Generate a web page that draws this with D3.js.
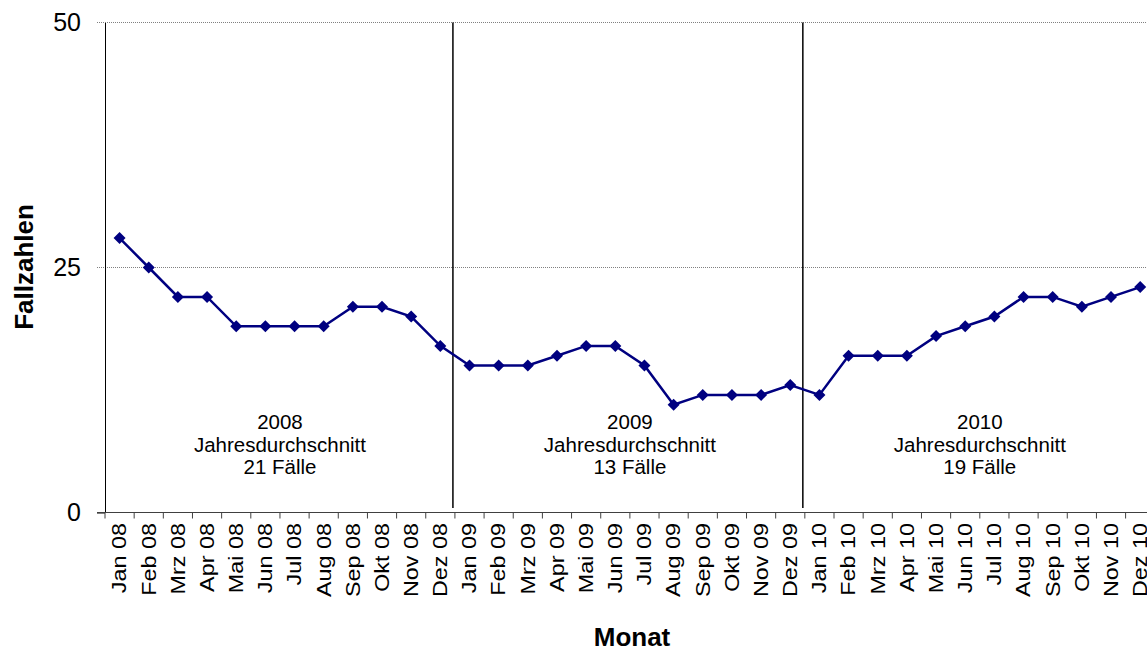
<!DOCTYPE html>
<html>
<head>
<meta charset="utf-8">
<script src="https://cdn.jsdelivr.net/npm/d3@7"></script>
<style>
    body { margin: 0; background: #fff; overflow: hidden; }
    svg { display: block; font-family: Arial, "Liberation Sans", sans-serif; }
</style>
</head>
<body>
<svg width="1147" height="650"></svg>
<script>
// monthly labels (x axis)
const months = [
    "Jan 08", "Feb 08", "Mrz 08", "Apr 08", "Mai 08", "Jun 08", "Jul 08", "Aug 08", "Sep 08", "Okt 08", "Nov 08", "Dez 08",
    "Jan 09", "Feb 09", "Mrz 09", "Apr 09", "Mai 09", "Jun 09", "Jul 09", "Aug 09", "Sep 09", "Okt 09", "Nov 09", "Dez 09",
    "Jan 10", "Feb 10", "Mrz 10", "Apr 10", "Mai 10", "Jun 10", "Jul 10", "Aug 10", "Sep 10", "Okt 10", "Nov 10", "Dez 10"
];

// case numbers per month
const cases = [
    28, 25, 22, 22, 19, 19, 19, 19, 21, 21, 20, 17,
    15, 15, 15, 16, 17, 17, 15, 11, 12, 12, 12, 13,
    12, 16, 16, 16, 18, 19, 20, 22, 22, 21, 22, 23
];

// yearly annotations
const years = ["2008", "2009", "2010"];
const yearAverages = [21, 13, 19];

const yTicks = [0, 25, 50];

function drawGraph() {
    const svg = d3.select("svg");
    svg.selectAll('*').remove();

    const area = {
        left: 105,
        step: 29.16,
        top: 22.5,
        bottom: 512.5
    };

    const scaleX = d3.scaleBand()
        .domain(months)
        .range([area.left, area.left + area.step * months.length]);

    const scaleY = d3.scaleLinear()
        .domain([0, 50])
        .range([area.bottom, area.top]);

    createAxis(svg, scaleX, scaleY);
    createYears(svg, scaleX, scaleY);
    createChart(svg, scaleX, scaleY);
}

function createAxis(svg, scaleX, scaleY) {
    const right = scaleX.range()[1];

    // dotted gridlines
    svg.selectAll("line.grid")
        .data(yTicks.filter(d => d > 0))
        .enter()
        .append("line")
        .attr("class", "grid")
        .attr("x1", 97)
        .attr("x2", right)
        .attr("y1", d => scaleY(d))
        .attr("y2", d => scaleY(d))
        .attr("stroke", "#808080")
        .attr("stroke-dasharray", "1,1");

    // y axis
    const gY = svg.append("g")
        .attr("transform", "translate(105,0)")
        .call(d3.axisLeft(scaleY).tickValues(yTicks).tickSize(8).tickSizeOuter(0).tickPadding(16));
    gY.select(".domain").attr("stroke", "#000");
    gY.selectAll(".tick line").attr("stroke", d => d === 0 ? "#000" : "none");
    gY.selectAll(".tick text")
        .attr("font-size", 25)
        .attr("font-family", "Arial, 'Liberation Sans', sans-serif")
        .attr("fill", "#000");

    // x axis line with ticks on band borders
    svg.append("line")
        .attr("x1", 97)
        .attr("x2", right)
        .attr("y1", scaleY(0))
        .attr("y2", scaleY(0))
        .attr("stroke", "#404040");

    svg.selectAll("line.xtick")
        .data(months.concat(["end"]))
        .enter()
        .append("line")
        .attr("class", "xtick")
        .attr("x1", d => d === "end" ? right : scaleX(d))
        .attr("x2", d => d === "end" ? right : scaleX(d))
        .attr("y1", scaleY(0))
        .attr("y2", scaleY(0) + 6)
        .attr("stroke", "#404040");

    // rotated month labels
    svg.selectAll("text.month")
        .data(months)
        .enter()
        .append("text")
        .attr("class", "month")
        .attr("transform", d => `translate(${scaleX(d) + scaleX.bandwidth() / 2}, 523) rotate(-90) scale(1.2,1)`)
        .attr("text-anchor", "end")
        .attr("dy", "0.35em")
        .attr("font-size", 19.5)
        .text(d => d);

    // axis titles
    svg.append("text")
        .attr("transform", "translate(33, 267) rotate(-90)")
        .attr("text-anchor", "middle")
        .attr("font-size", 26)
        .attr("font-weight", "bold")
        .text("Fallzahlen");

    svg.append("text")
        .attr("x", 632)
        .attr("y", 646)
        .attr("text-anchor", "middle")
        .attr("font-size", 26)
        .attr("font-weight", "bold")
        .text("Monat");
}

function createYears(svg, scaleX, scaleY) {
    // separators between the years
    svg.selectAll("line.sep")
        .data(years.slice(1))
        .enter()
        .append("line")
        .attr("class", "sep")
        .attr("x1", (d, i) => scaleX(months[(i + 1) * 12]) - 2)
        .attr("x2", (d, i) => scaleX(months[(i + 1) * 12]) - 2)
        .attr("y1", scaleY(50))
        .attr("y2", 508)
        .attr("stroke", "#000")
        .attr("stroke-width", 1.5);

    const label = svg.selectAll("text.year")
        .data(years)
        .enter()
        .append("text")
        .attr("class", "year")
        .attr("text-anchor", "middle")
        .attr("font-size", 20.5)
        .attr("transform", (d, i) => {
            const x0 = scaleX(months[i * 12]);
            const x1 = scaleX(months[i * 12 + 11]) + scaleX.bandwidth();
            return `translate(${(x0 + x1) / 2}, 429)`;
        });

    label.append("tspan").attr("x", 0).attr("y", 0).text(d => d);
    label.append("tspan").attr("x", 0).attr("y", 22.5).text("Jahresdurchschnitt");
    label.append("tspan").attr("x", 0).attr("y", 45).text((d, i) => yearAverages[i] + " Fälle");
}

function createChart(svg, scaleX, scaleY) {
    const cx = d => scaleX(d) + scaleX.bandwidth() / 2;

    const line = d3.line()
        .x((d, i) => cx(months[i]))
        .y(d => scaleY(d));

    svg.append("path")
        .datum(cases)
        .attr("d", line)
        .attr("fill", "none")
        .attr("stroke", "#000080")
        .attr("stroke-width", 2.5);

    // square diamond marker
    const diamond = {
        draw(ctx, size) {
            const r = Math.sqrt(size) / 2;
            ctx.moveTo(0, -r);
            ctx.lineTo(r, 0);
            ctx.lineTo(0, r);
            ctx.lineTo(-r, 0);
            ctx.closePath();
        }
    };

    svg.selectAll("path.point")
        .data(cases)
        .enter()
        .append("path")
        .attr("class", "point")
        .attr("d", d3.symbol(diamond, 144))
        .attr("transform", (d, i) => `translate(${cx(months[i])}, ${scaleY(d)})`)
        .attr("fill", "#000080");
}

drawGraph();
</script>
</body>
</html>
